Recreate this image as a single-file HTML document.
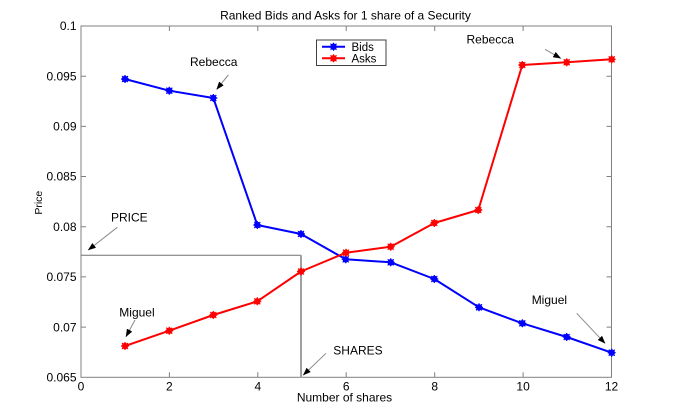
<!DOCTYPE html>
<html>
<head>
<meta charset="utf-8">
<style>
html,body{margin:0;padding:0;background:#fff;}
svg{display:block;}
text{font-family:"Liberation Sans",Arial,sans-serif;fill:#000;}
</style>
</head>
<body>
<svg width="679" height="410" viewBox="0 0 679 410" xmlns="http://www.w3.org/2000/svg">
<defs>
<marker id="ah" markerWidth="8" markerHeight="6" refX="7.5" refY="3" orient="auto" markerUnits="userSpaceOnUse">
<path d="M0,0 L8,3 L0,6 Z" fill="#000"/>
</marker>
<g id="mb"><circle r="3.2" fill="#0000ff"/><path d="M-4,0H4M0,-4V4M-3,-3L3,3M-3,3L3,-3" stroke="#0000ff" stroke-width="1.2"/></g>
<g id="mr"><circle r="3.2" fill="#ff0000"/><path d="M-4,0H4M0,-4V4M-3,-3L3,3M-3,3L3,-3" stroke="#ff0000" stroke-width="1.2"/></g>
</defs>
<rect width="679" height="410" fill="#fff"/>

<!-- title -->
<text x="345.5" y="19.5" font-size="12" text-anchor="middle">Ranked Bids and Asks for 1 share of a Security</text>

<!-- axes box -->
<rect x="81" y="26" width="530.5" height="351.3" fill="none" stroke="#808080" stroke-width="1"/>

<!-- ticks -->
<g stroke="#808080" stroke-width="1">
<path d="M169.4,377.3v-5M257.8,377.3v-5M346.2,377.3v-5M434.7,377.3v-5M523.1,377.3v-5"/>
<path d="M169.4,26v5M257.8,26v5M346.2,26v5M434.7,26v5M523.1,26v5"/>
<path d="M81,327.1h5M81,276.9h5M81,226.7h5M81,176.5h5M81,126.4h5M81,76.2h5"/>
<path d="M611.5,327.1h-5M611.5,276.9h-5M611.5,226.7h-5M611.5,176.5h-5M611.5,126.4h-5M611.5,76.2h-5"/>
</g>

<!-- y tick labels -->
<g font-size="12" text-anchor="end">
<text x="76.5" y="381.5">0.065</text>
<text x="76.5" y="331.3">0.07</text>
<text x="76.5" y="281.1">0.075</text>
<text x="76.5" y="230.9">0.08</text>
<text x="76.5" y="180.7">0.085</text>
<text x="76.5" y="130.6">0.09</text>
<text x="76.5" y="80.4">0.095</text>
<text x="76.5" y="30.2">0.1</text>
</g>
<!-- x tick labels -->
<g font-size="12" text-anchor="middle">
<text x="81" y="390.5">0</text>
<text x="169.4" y="390.5">2</text>
<text x="257.8" y="390.5">4</text>
<text x="301" y="390.5" fill="none"></text>
<text x="346.2" y="390.5">6</text>
<text x="434.7" y="390.5">8</text>
<text x="523.1" y="390.5">10</text>
<text x="611.5" y="390.5">12</text>
</g>

<text x="344.5" y="401.5" font-size="12" text-anchor="middle">Number of shares</text>
<text transform="translate(42,202.7) rotate(-90)" font-size="10.5" text-anchor="middle">Price</text>

<!-- price / shares reference lines -->
<line x1="81" y1="255.2" x2="301" y2="255.2" stroke="#707070" stroke-width="1"/>
<line x1="301" y1="255.2" x2="301" y2="377.3" stroke="#a0a0a0" stroke-width="2"/>

<!-- Bids -->
<polyline fill="none" stroke="#0000ff" stroke-width="2" stroke-linejoin="round"
 points="125,79 169.3,90.7 213.3,98 257.3,225 301,234 345.7,259.3 390.7,262.3 434.3,279 479,307.3 522.3,323.3 566.7,337 611.7,352.7"/>
<g>
<use href="#mb" x="125" y="79"/><use href="#mb" x="169.3" y="90.7"/><use href="#mb" x="213.3" y="98"/>
<use href="#mb" x="257.3" y="225"/><use href="#mb" x="301" y="234"/><use href="#mb" x="345.7" y="259.3"/>
<use href="#mb" x="390.7" y="262.3"/><use href="#mb" x="434.3" y="279"/><use href="#mb" x="479" y="307.3"/>
<use href="#mb" x="522.3" y="323.3"/><use href="#mb" x="566.7" y="337"/><use href="#mb" x="611.7" y="352.7"/>
</g>

<!-- Asks -->
<polyline fill="none" stroke="#ff0000" stroke-width="2" stroke-linejoin="round"
 points="125,346 169.3,330.7 213.3,315 257.3,301.3 301,271.5 346,252.7 390.7,246.7 434.3,223 478.3,210 522.3,65 566.7,62.3 611.7,59.3"/>
<g>
<use href="#mr" x="125" y="346"/><use href="#mr" x="169.3" y="330.7"/><use href="#mr" x="213.3" y="315"/>
<use href="#mr" x="257.3" y="301.3"/><use href="#mr" x="301" y="271.5"/><use href="#mr" x="346" y="252.7"/>
<use href="#mr" x="390.7" y="246.7"/><use href="#mr" x="434.3" y="223"/><use href="#mr" x="478.3" y="210"/>
<use href="#mr" x="522.3" y="65"/><use href="#mr" x="566.7" y="62.3"/><use href="#mr" x="611.7" y="59.3"/>
</g>

<!-- legend -->
<rect x="316.5" y="40" width="69.5" height="25.5" fill="#fff" stroke="#404040" stroke-width="1"/>
<line x1="322" y1="46.7" x2="345" y2="46.7" stroke="#0000ff" stroke-width="2"/>
<use href="#mb" x="333.5" y="46.7"/>
<line x1="322" y1="58.3" x2="345" y2="58.3" stroke="#ff0000" stroke-width="2"/>
<use href="#mr" x="333.5" y="58.3"/>
<text x="351.5" y="50.8" font-size="11.5">Bids</text>
<text x="351.5" y="62.4" font-size="11.5">Asks</text>

<!-- annotations -->
<g font-size="12">
<text x="190" y="66">Rebecca</text>
<text x="466.5" y="43.5">Rebecca</text>
<text x="111" y="221.5">PRICE</text>
<text x="119.3" y="316.5">Miguel</text>
<text x="333.3" y="354.3">SHARES</text>
<text x="531.7" y="304.2">Miguel</text>
</g>
<g stroke="#8a8a8a" stroke-width="1" marker-end="url(#ah)">
<line x1="228.3" y1="75" x2="216.7" y2="89.3"/>
<line x1="545" y1="49.3" x2="560.7" y2="58.3"/>
<line x1="117.3" y1="227.3" x2="88.3" y2="250"/>
<line x1="135" y1="320" x2="126" y2="336.7"/>
<line x1="326" y1="353.3" x2="303.3" y2="375"/>
<line x1="576.7" y1="313.3" x2="605" y2="343.3"/>
</g>
</svg>
</body>
</html>
